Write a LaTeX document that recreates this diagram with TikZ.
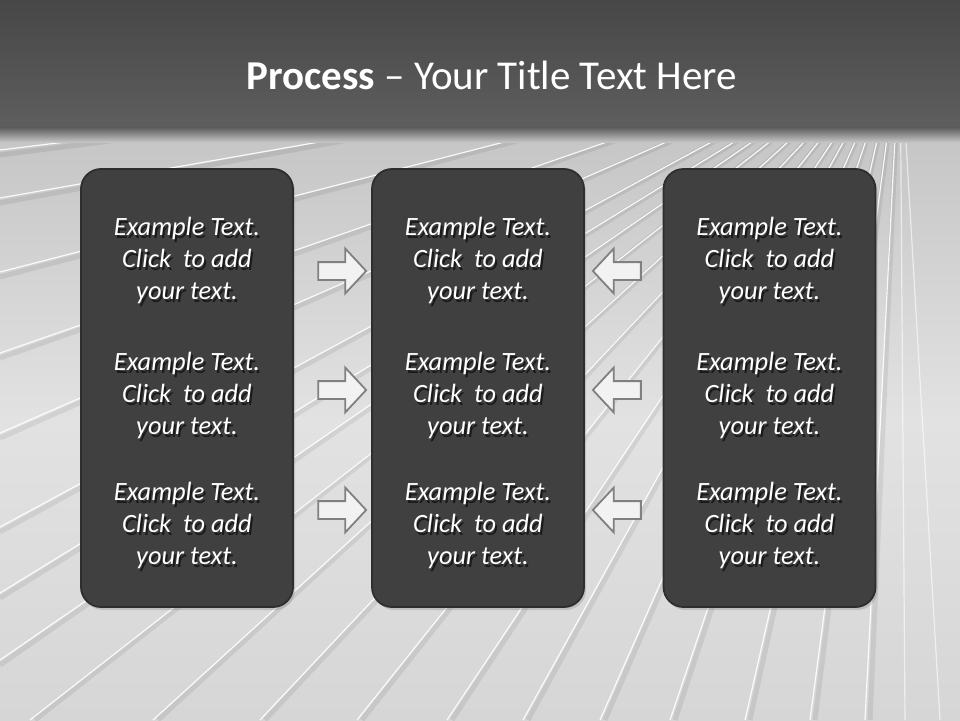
\documentclass[tikz,border=0pt]{standalone}
\usepackage{fontspec}
\setmainfont{Carlito}
\usetikzlibrary{shapes.arrows,shadows,calc}
\definecolor{bandtop}{HTML}{474747}
\definecolor{bandbot}{HTML}{5E5E5E}
\definecolor{floortop}{HTML}{C4C4C4}
\definecolor{floormid}{HTML}{E2E2E2}
\definecolor{floorbot}{HTML}{D6D6D6}
\definecolor{boxfill}{HTML}{404040}
\definecolor{boxline}{HTML}{2E2E2E}
\definecolor{arrfill}{HTML}{F2F2F2}
\definecolor{arrline}{HTML}{808080}
\definecolor{txtshadow}{HTML}{1A1A1A}
\newcommand\shline[1]{\rlap{\kern2pt\raisebox{-2.2pt}{\textcolor{txtshadow}{#1}}}#1}
\newcommand\cardtext{\shline{Example Text.}\\\shline{Click\ \ to add}\\\shline{your text.}}
\begin{document}
\begin{tikzpicture}[x=1pt,y=-1pt,
  panel/.style={draw=boxline, line width=1.8pt, fill=boxfill, rounded corners=20pt,
    minimum width=212pt, minimum height=438pt, inner sep=0pt,
    drop shadow={opacity=0.3, shadow xshift=2pt, shadow yshift=-3pt}},
  bodytext/.style={align=center, text=white, inner sep=0pt,
    font=\fontsize{26.4}{32}\selectfont\itshape},
  rarrow/.style={single arrow, draw=arrline, fill=arrfill, line width=1.8pt,
    inner xsep=0pt, inner ysep=8pt, minimum height=48pt,
    single arrow head extend=13.5pt, single arrow head indent=0pt,
    single arrow tip angle=94},
  larrow/.style={rarrow, shape border rotate=180},
  streakshade/.style={line width=5pt, black, opacity=0.07},
  streaklight/.style={line width=1.2pt, white, opacity=0.9}
]
\useasboundingbox (0,0) rectangle (960,720);
% floor
\shade[top color=floortop, bottom color=floorbot, middle color=floormid] (0,120) rectangle (960,720);
\begin{scope}
  \clip (0,128) rectangle (960,720);
  \coordinate (vp) at (900,40);
  \foreach \yy in {150,198,272,353,433,527,593,660} {
    \draw[streakshade] (vp) -- (0,\yy+5);
    \draw[streaklight] (vp) -- (0,\yy);
  }
  \foreach \xx in {30,153,260,357,447,523,600,670,745,810,865} {
    \draw[streakshade] (vp) -- (\xx+5,720);
    \draw[streaklight] (vp) -- (\xx,720);
  }
  \draw[streaklight, opacity=0.6] (vp) -- (905,720);
  \draw[streaklight, opacity=0.6] (vp) -- (940,720);
\end{scope}
% title band
\shade[top color=bandtop, bottom color=bandbot] (0,0) rectangle (960,128);
\shade[top color=bandbot, bottom color=floortop] (0,127.5) rectangle (960,142);
\node[text=white, font=\fontsize{41}{46}\selectfont] (title) at (492,75)
  {\textbf{Process} -- Your Title Text Here};
% panels
\node[panel] (b1) at (187,388) {};
\node[panel] (b2) at (478,388) {};
\node[panel] (b3) at (769.5,388) {};
% texts
\foreach \b/\cx in {1/187,2/478,3/769.5} {
  \foreach \r/\cy in {1/262,2/397,3/527} {
    \node[bodytext] (t\b\r) at (\cx,\cy) {\cardtext};
  }
}
% arrows
\foreach \r/\cy in {1/271,2/390,3/510} {
  \node[rarrow] (ra\r) at (338,\cy) {};
  \node[larrow] (la\r) at (621,\cy) {};
}
\end{tikzpicture}
\end{document}
